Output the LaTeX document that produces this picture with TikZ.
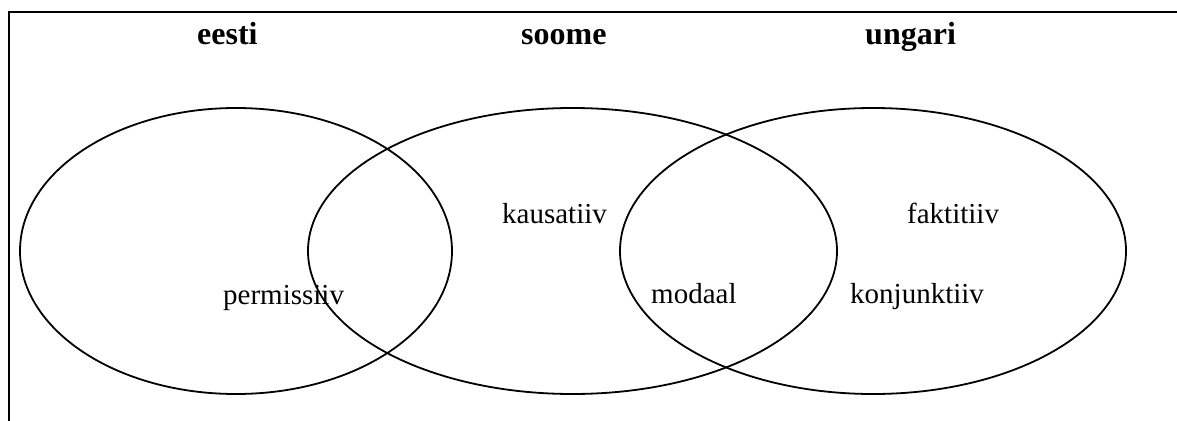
\documentclass[tikz,border=0pt]{standalone}
\usepackage{fontspec}
\setmainfont{Liberation Serif}
\usetikzlibrary{shapes.geometric}
\tikzset{
  set/.style={draw=black, line width=1.8pt, ellipse, inner sep=0pt, minimum width=#1, minimum height=286pt},
  title/.style={anchor=base west, inner sep=0pt, font=\fontsize{32}{36}\selectfont\bfseries},
  lbl/.style={anchor=base west, inner sep=0pt, font=\fontsize{29}{33}\selectfont},
  frame/.style={line width=2.8pt, line cap=rect}
}
\begin{document}
\begin{tikzpicture}[x=1pt, y=-1pt]
\useasboundingbox (0,0) rectangle (1177,420);
\coordinate (tr) at (1180,12);
\coordinate (tl) at (9,12);
\coordinate (bl) at (9,424);
\draw[frame] (tr) -- (tl) -- (bl);
\node[set=432pt] (E) at (236,251) {};
\node[set=529pt] (S) at (572.5,251) {};
\node[set=506pt] (U) at (873,251) {};
\node[title] (te) at (197,45) {eesti};
\node[title] (ts) at (521,45) {soome};
\node[title] (tu) at (865,45) {ungari};
\node[lbl] (kau) at (502,223) {kausatiiv};
\node[lbl] (fak) at (907,223) {faktitiiv};
\node[lbl] (per) at (223,304) {permissiiv};
\node[lbl] (mod) at (651,303) {modaal};
\node[lbl] (kon) at (850,303) {konjunktiiv};
\end{tikzpicture}
\end{document}
